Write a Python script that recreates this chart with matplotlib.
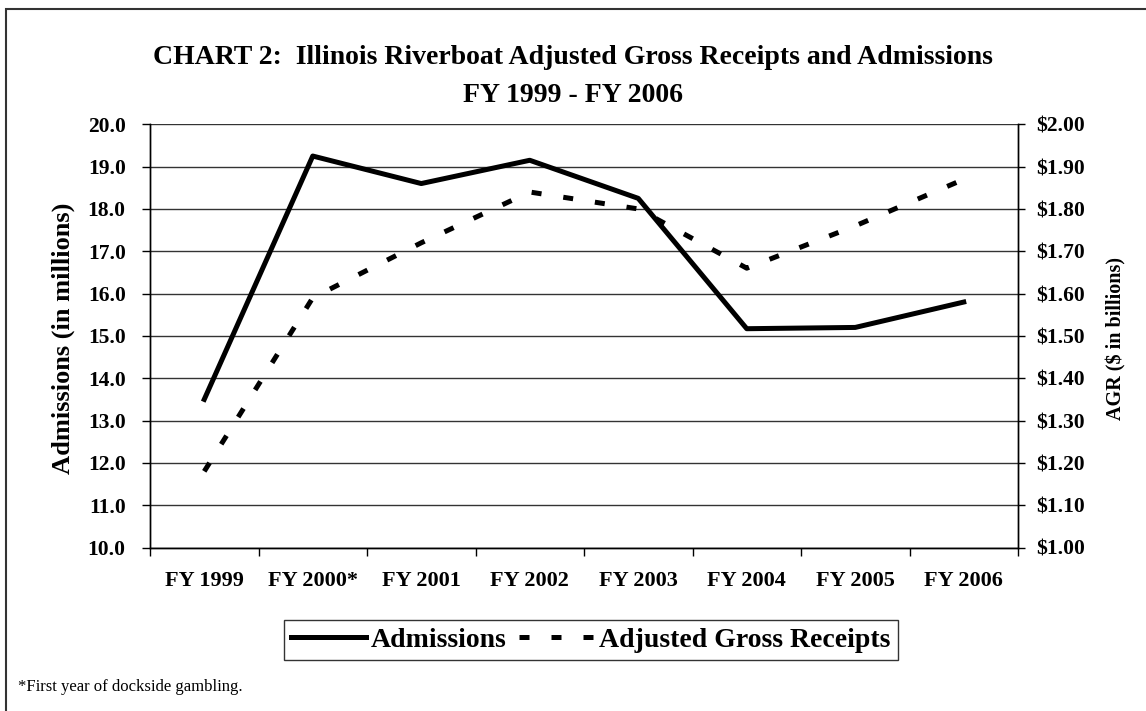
import numpy as np
import matplotlib
matplotlib.use("Agg")
import matplotlib.pyplot as plt
from matplotlib import ticker
from matplotlib.patches import Rectangle

plt.rcParams['font.family'] = ['Liberation Serif', 'DejaVu Serif']
plt.rcParams['font.weight'] = 'bold'

# data
years = ['FY 1999', 'FY 2000*', 'FY 2001', 'FY 2002', 'FY 2003', 'FY 2004', 'FY 2005', 'FY 2006']
admissions = [13.5, 19.25, 18.6, 19.15, 18.25, 15.17, 15.2, 15.8]   # millions
agr = [1.18, 1.59, 1.72, 1.84, 1.80, 1.66, 1.76, 1.87]              # $ billions

W, H = 1146, 711
fig = plt.figure(figsize=(W / 100, H / 100), dpi=100)
ax = fig.add_axes([150 / W, 1 - 547.5 / H, (1018 - 150) / W, (547.5 - 124.3) / H])
ax2 = ax.twinx()

x = np.arange(len(years))
l1, = ax.plot(x, admissions, color='black', lw=3.6, label='Admissions')
l2, = ax2.plot(x, agr, color='black', lw=3.6, linestyle=(0, (2.0, 4.4)), dash_capstyle='butt',
               label='Adjusted Gross Receipts')

ax.set_xlim(-0.5, len(years) - 0.5)
ax.set_ylim(10, 20)
ax2.set_ylim(1.0, 2.0)
ax.set_yticks(np.arange(10, 20.01, 1))
ax2.set_yticks(np.arange(1.0, 2.001, 0.1))
ax.yaxis.set_major_formatter(ticker.FormatStrFormatter('%.1f'))
ax2.yaxis.set_major_formatter(ticker.FormatStrFormatter('$%.2f'))
ax.grid(axis='y', color='#333333', lw=1)
ax.set_axisbelow(True)

ax.set_xticks(x)
ax.set_xticklabels(years)
ax.set_xticks(np.arange(-0.5, len(years), 1), minor=True)
ax.tick_params(axis='x', which='major', length=0, pad=17, labelsize=16)
ax.tick_params(axis='x', which='minor', length=5.5, width=1, direction='out')
ax.tick_params(axis='y', length=5.5, width=1, direction='out', labelsize=15.5, pad=12)
ax2.tick_params(axis='y', length=5, width=1, direction='out', labelsize=15.5, pad=8)

for a in (ax, ax2):
    a.spines['top'].set_visible(False)
    for s in ('left', 'right', 'bottom'):
        a.spines[s].set_linewidth(1)
        a.spines[s].set_color('black')

fig.text(63 / W, 1 - 338 / H, 'Admissions (in millions)', rotation=90, ha='center', va='center',
         fontsize=19, fontweight='bold')
fig.text(1116 / W, 1 - 339 / H, 'AGR ($ in billions)', rotation=90, ha='center', va='center',
         fontsize=14.5, fontweight='bold')

fig.text(0.5, 1 - 57 / H, 'CHART 2:  Illinois Riverboat Adjusted Gross Receipts and Admissions',
         ha='center', va='center', fontsize=20, fontweight='bold')
fig.text(0.5, 1 - 95 / H, 'FY 1999 - FY 2006', ha='center', va='center', fontsize=20, fontweight='bold')

leg = fig.legend(handles=[l1, l2], loc='center', bbox_to_anchor=(591 / W, 1 - 640 / H), ncol=2,
                 frameon=True, fancybox=False, edgecolor='black', fontsize=20,
                 handlelength=2.7, handletextpad=0.18, columnspacing=0.45, borderpad=0.25)
leg.get_frame().set_linewidth(1)

fig.text(18 / W, 1 - 687 / H, '*First year of dockside gambling.', ha='left', va='center',
         fontsize=12, fontweight='normal')

fig.patches.append(Rectangle((6 / W, -0.05), 1.2, 1 - 9 / H + 0.05, transform=fig.transFigure,
                             fill=False, edgecolor='#333333', lw=1.5))

fig.savefig('out.png', dpi=100)
